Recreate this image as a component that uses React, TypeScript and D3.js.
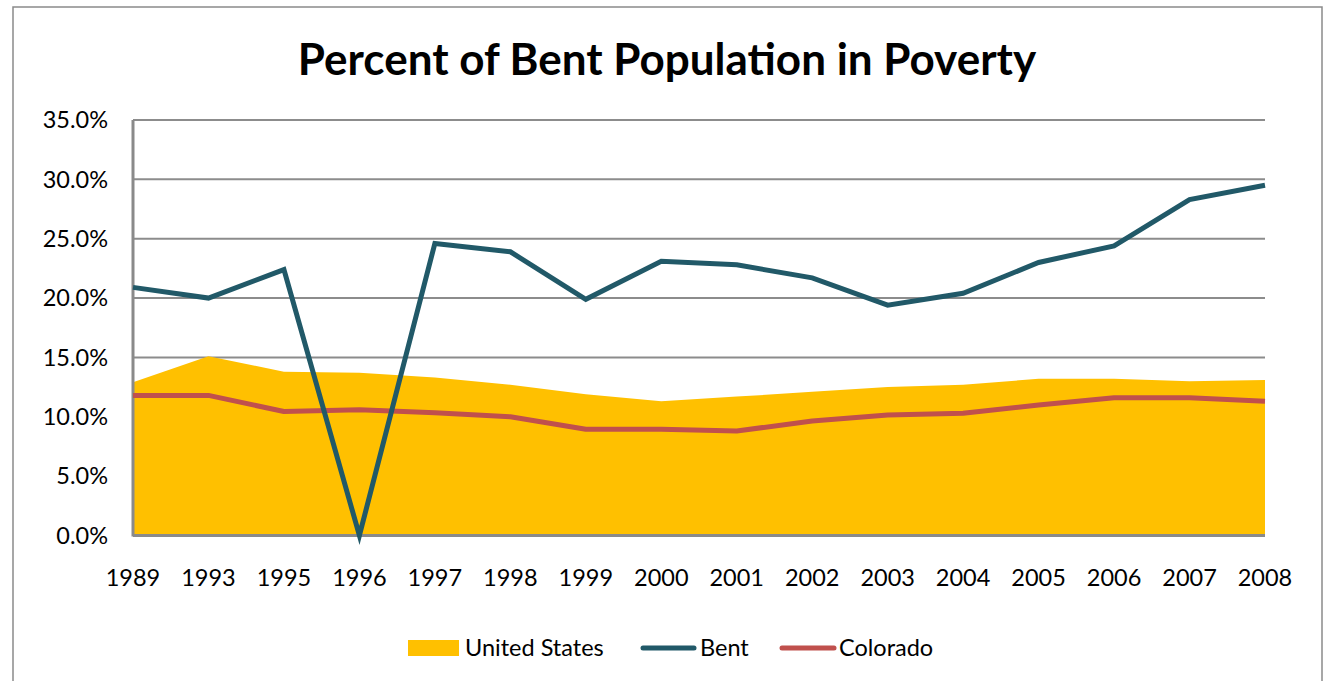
import React from "react";
import * as d3 from "d3";

const years = ["1989","1993","1995","1996","1997","1998","1999","2000","2001","2002","2003","2004","2005","2006","2007","2008"];
const unitedStates = [12.9,15.1,13.8,13.7,13.3,12.7,11.9,11.3,11.7,12.1,12.5,12.7,13.2,13.2,13.0,13.1];
const bent = [20.9,20.0,22.4,0.0,24.6,23.9,19.9,23.1,22.8,21.7,19.4,20.4,23.0,24.4,28.3,29.5];
const colorado = [11.8,11.8,10.45,10.6,10.35,10.0,8.95,8.95,8.8,9.65,10.15,10.3,11.0,11.6,11.6,11.3];
const yTicks = [0,5,10,15,20,25,30,35];

const FONT = "Lato, 'Open Sans', sans-serif";

export default function App() {
  const W = 1325, H = 681;
  const left = 133, right = 1265, top = 120, bottom = 535.5;
  const x = d3.scalePoint<string>().domain(years).range([left, right]);
  const y = d3.scaleLinear().domain([0, 35]).range([bottom, top]);

  const area = d3.area<number>()
    .x((_, i) => x(years[i])!)
    .y0(y(0))
    .y1((d) => y(d));
  const line = d3.line<number>()
    .x((_, i) => x(years[i])!)
    .y((d) => y(d));

  const fs = 23.5;
  const ly = 648;

  return (
    <svg width={W} height={H} style={{ position: "absolute", left: 0, top: 0, background: "#fff" }}>
      <rect x={13} y={7} width={1309} height={690} fill="#fff" stroke="#8a8a8a" strokeWidth={1.5} />
      <text x={667} y={75} textAnchor="middle" fontFamily={FONT} fontWeight="bold" fontSize={44} fill="#000">
        Percent of Bent Population in Poverty
      </text>
      {yTicks.map((t) => (
        <line key={"g" + t} x1={left} x2={right} y1={y(t)} y2={y(t)} stroke="#8c8c8c" strokeWidth={2} />
      ))}
      <path d={area(unitedStates)!} fill="#FFC000" />
      <line x1={left} x2={left} y1={top} y2={bottom + 1} stroke="#8a8a8a" strokeWidth={3} />
      <line x1={left} x2={right} y1={bottom} y2={bottom} stroke="#8a8a8a" strokeWidth={3} />
      <path d={line(colorado)!} fill="none" stroke="#C0504D" strokeWidth={5} strokeLinejoin="round" />
      <path d={line(bent)!} fill="none" stroke="#215968" strokeWidth={5} strokeLinejoin="miter" />
      {yTicks.map((t) => (
        <text key={"t" + t} x={108} y={y(t)} dy="0.35em" textAnchor="end" fontFamily={FONT} fontSize={fs} fill="#000">
          {t.toFixed(1) + "%"}
        </text>
      ))}
      {years.map((yr) => (
        <text key={yr} x={x(yr)!} y={578} dy="0.35em" textAnchor="middle" fontFamily={FONT} fontSize={fs} fill="#000">
          {yr}
        </text>
      ))}
      <rect x={408} y={ly - 8} width={51} height={16} fill="#FFC000" />
      <text x={465} y={ly} dy="0.35em" fontFamily={FONT} fontSize={fs} fill="#000">United States</text>
      <line x1={643} x2={694} y1={ly} y2={ly} stroke="#215968" strokeWidth={5} strokeLinecap="round" />
      <text x={700} y={ly} dy="0.35em" fontFamily={FONT} fontSize={fs} fill="#000">Bent</text>
      <line x1={782} x2={834} y1={ly} y2={ly} stroke="#C0504D" strokeWidth={5} strokeLinecap="round" />
      <text x={839} y={ly} dy="0.35em" fontFamily={FONT} fontSize={fs} fill="#000">Colorado</text>
    </svg>
  );
}
